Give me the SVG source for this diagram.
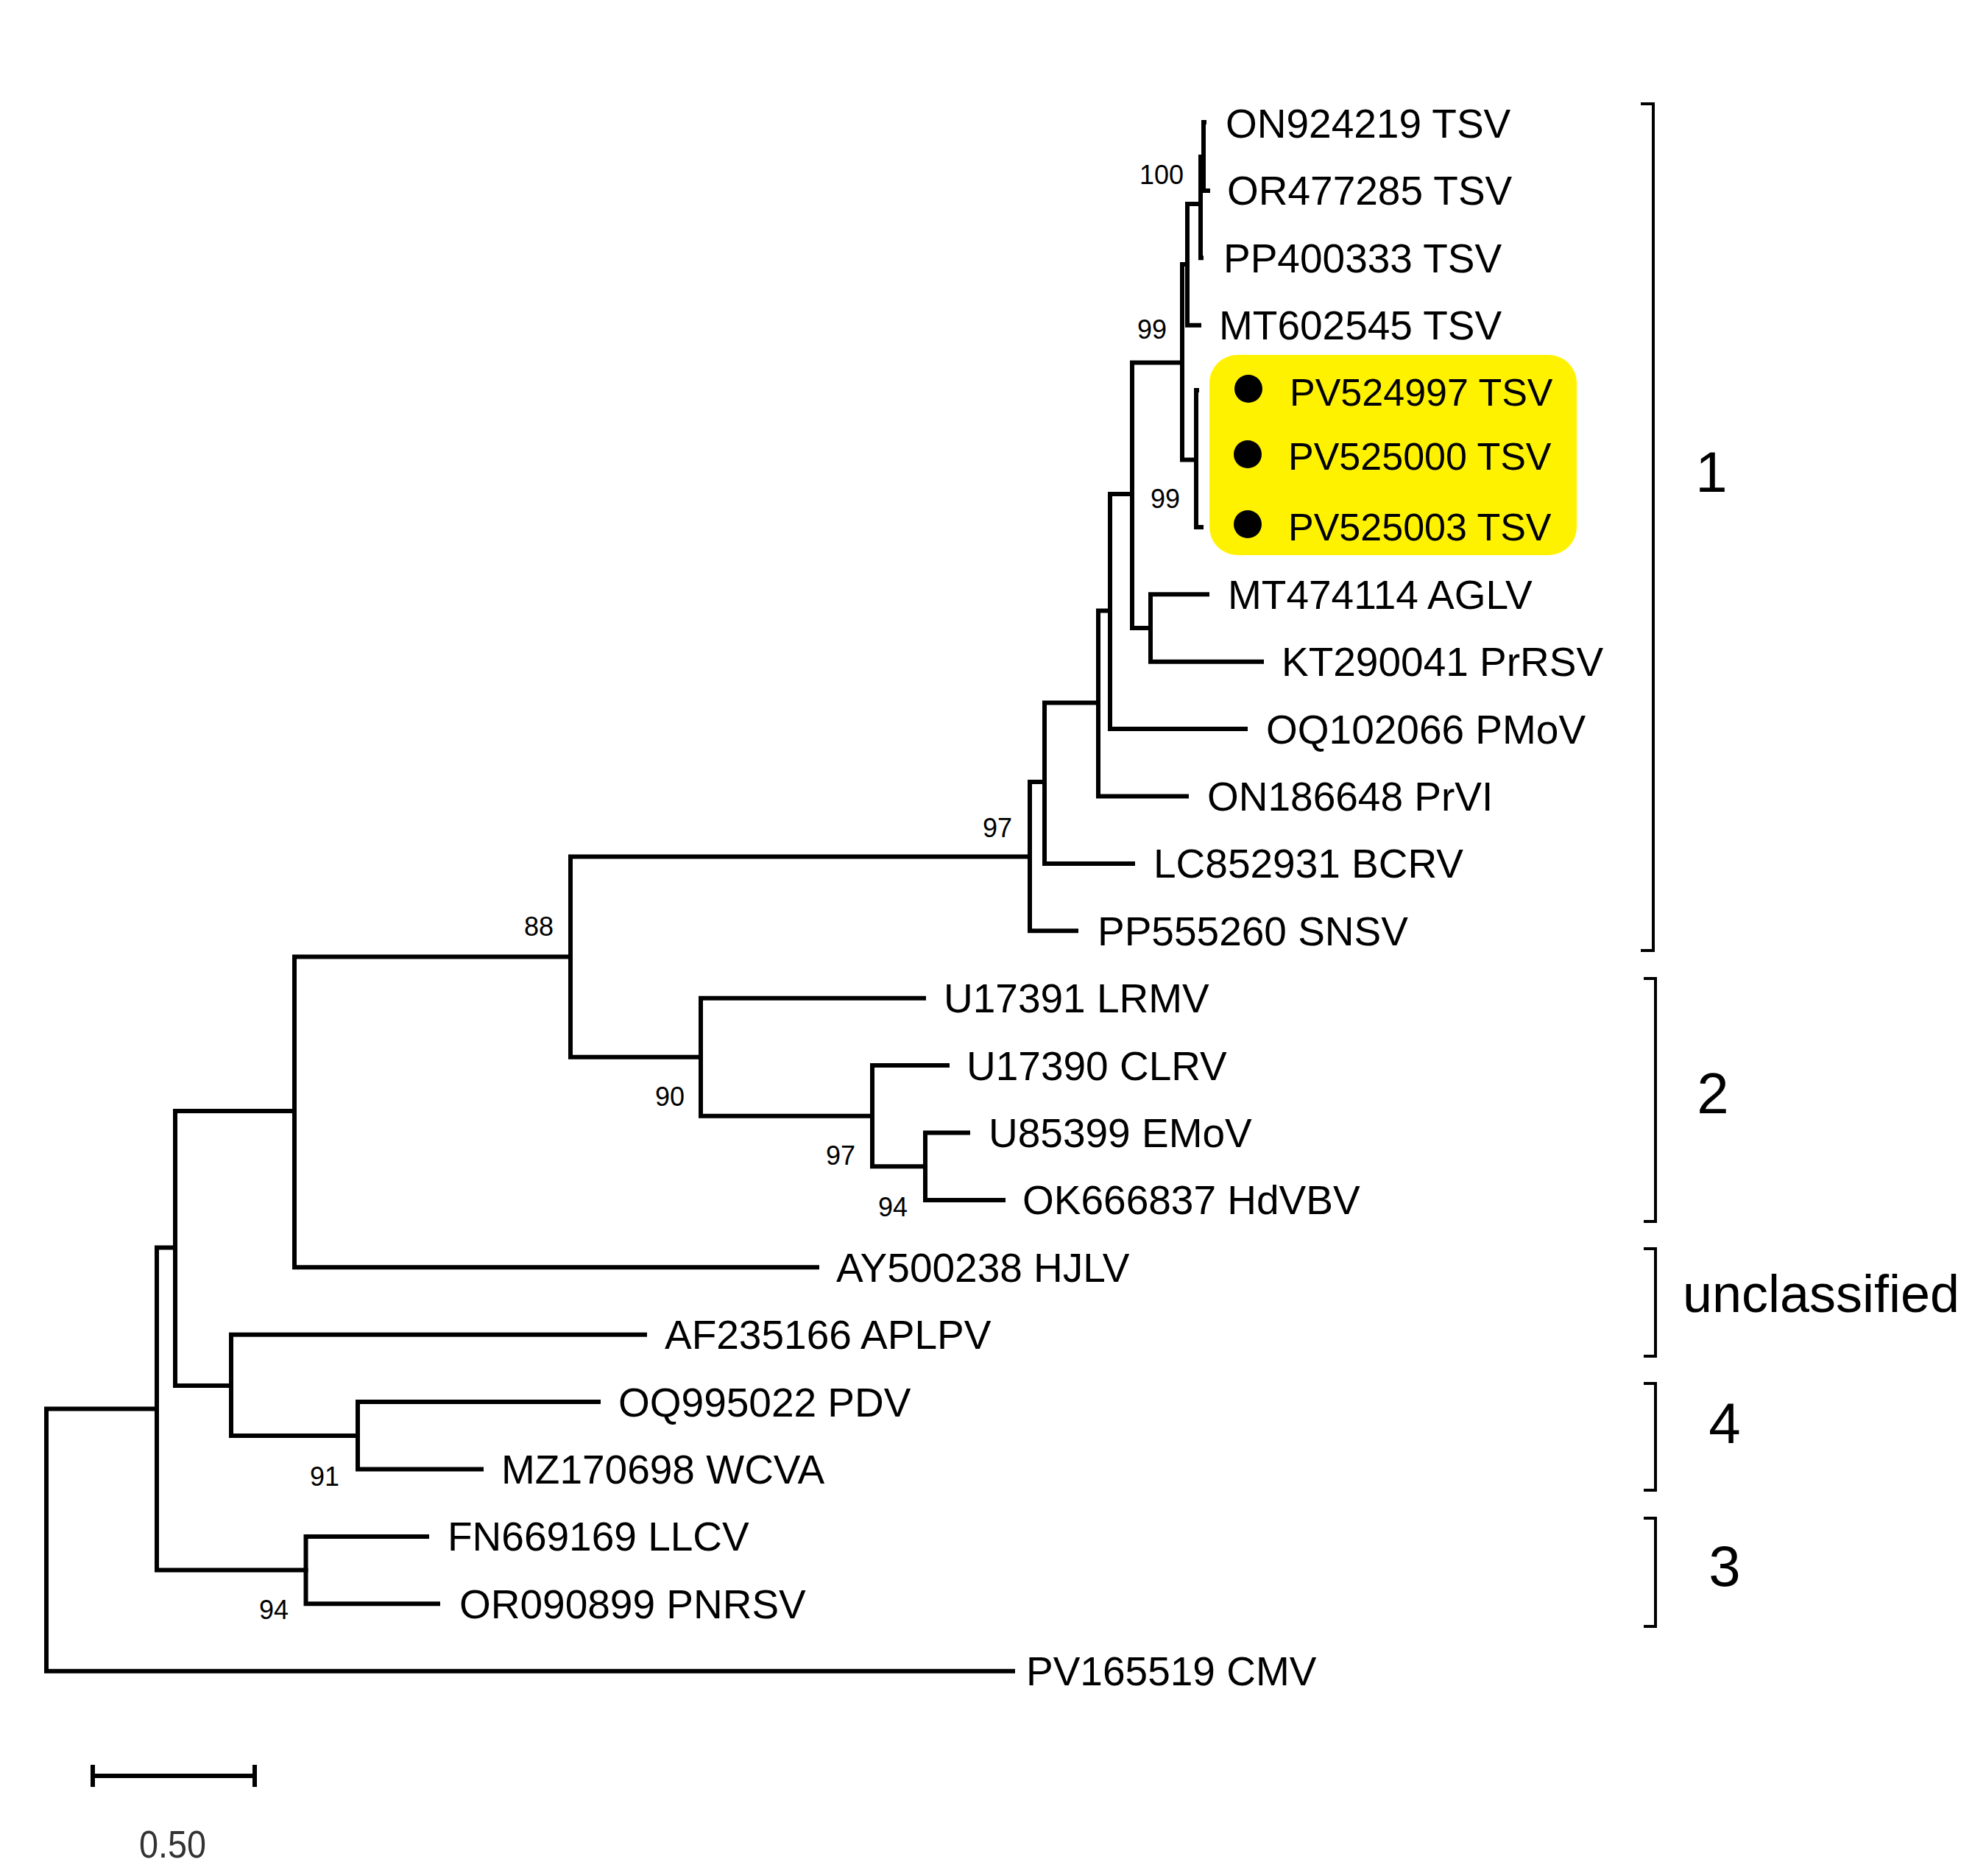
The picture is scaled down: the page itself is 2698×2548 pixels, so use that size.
<svg xmlns="http://www.w3.org/2000/svg" width="2698" height="2548" viewBox="0 0 2698 2548">
<style>
.br{fill:none;stroke:#000;stroke-width:6;stroke-linecap:square;stroke-linejoin:miter}
.bk{fill:none;stroke:#000;stroke-width:4;stroke-linecap:butt}
.lf{font-family:"Liberation Sans",Arial,sans-serif;font-size:55px;fill:#000}
.hl{font-family:"Liberation Sans",Arial,sans-serif;font-size:52px;fill:#000}
.bs{font-family:"Liberation Sans",Arial,sans-serif;font-size:36px;fill:#000}
.cl{font-family:"Liberation Sans",Arial,sans-serif;font-size:78px;fill:#000}
.sc{font-family:"Liberation Sans",Arial,sans-serif;font-size:52px;fill:#333}
</style>
<rect x="0" y="0" width="2698" height="2548" fill="#fff"/>

<g id="highlight">
<rect x="1643" y="482" width="499" height="272" rx="38" ry="38" fill="#FFF200"/>
</g>

<g id="connectors">
<path class="br" d="M213 1913.5 H63 V2269.7 H1376"/>
<path class="br" d="M238 1694.5 H213 V2132.6 H415.5"/>
<path class="br" d="M580 2086.9 H415.5 V2178.3 H595"/>
<path class="br" d="M400 1509 H238 V1882 H314"/>
<path class="br" d="M876 1812.7 H314 V1950 H486"/>
<path class="br" d="M813 1904.1 H486 V1995.5 H654"/>
<path class="br" d="M775 1299.6 H400 V1721.3 H1110"/>
<path class="br" d="M1399 1163.5 H775 V1435.7 H952"/>
<path class="br" d="M1255 1355.7 H952 V1515.7 H1185"/>
<path class="br" d="M1287 1447.1 H1185 V1584.2 H1257"/>
<path class="br" d="M1315 1538.5 H1257 V1629.9 H1363"/>
<path class="br" d="M1419 1062 H1399 V1264.3 H1462"/>
<path class="br" d="M1492 954.5 H1419 V1172.9 H1539"/>
<path class="br" d="M1508 829.5 H1492 V1081.5 H1612"/>
<path class="br" d="M1538 671 H1508 V990.1 H1692"/>
<path class="br" d="M1606 492.5 H1538 V853 H1563"/>
<path class="br" d="M1640 807.3 H1563 V898.7 H1714"/>
<path class="br" d="M1613 359 H1606 V624.5 H1625"/>
<path class="br" d="M1631 277 H1613 V441.7 H1629"/>
<path class="br" d="M1635 213 H1631 V350.3 H1632"/>
<path class="br" d="M1636 166 H1635 V258.9 H1641"/>
<path class="br" d="M1626 530 H1625 V715.9 H1632"/>
</g>

<g id="bootstrap">
<text class="bs" x="1548" y="250">100</text>
<text class="bs" x="1545" y="460">99</text>
<text class="bs" x="1563" y="690">99</text>
<text class="bs" x="1335" y="1137">97</text>
<text class="bs" x="712" y="1271">88</text>
<text class="bs" x="890" y="1502">90</text>
<text class="bs" x="1122" y="1582">97</text>
<text class="bs" x="1193" y="1652">94</text>
<text class="bs" x="421" y="2018">91</text>
<text class="bs" x="352" y="2199">94</text>
</g>

<g id="leaf-ON924219"><text class="lf" x="1665" y="187">ON924219 TSV</text></g>
<g id="leaf-OR477285"><text class="lf" x="1667" y="278">OR477285 TSV</text></g>
<g id="leaf-PP400333"><text class="lf" x="1662" y="370">PP400333 TSV</text></g>
<g id="leaf-MT602545"><text class="lf" x="1656" y="461">MT602545 TSV</text></g>
<g id="leaf-PV524997"><circle cx="1696" cy="528" r="19" fill="#000"/><text class="hl" x="1752" y="551">PV524997 TSV</text></g>
<g id="leaf-PV525000"><circle cx="1695" cy="617" r="19" fill="#000"/><text class="hl" x="1750" y="638">PV525000 TSV</text></g>
<g id="leaf-PV525003"><circle cx="1695" cy="712" r="19" fill="#000"/><text class="hl" x="1750" y="734">PV525003 TSV</text></g>
<g id="leaf-MT474114"><text class="lf" x="1668" y="827">MT474114 AGLV</text></g>
<g id="leaf-KT290041"><text class="lf" x="1741" y="918">KT290041 PrRSV</text></g>
<g id="leaf-OQ102066"><text class="lf" x="1720" y="1010">OQ102066 PMoV</text></g>
<g id="leaf-ON186648"><text class="lf" x="1640" y="1101">ON186648 PrVI</text></g>
<g id="leaf-LC852931"><text class="lf" x="1567" y="1192">LC852931 BCRV</text></g>
<g id="leaf-PP555260"><text class="lf" x="1491" y="1284">PP555260 SNSV</text></g>
<g id="leaf-U17391"><text class="lf" x="1282" y="1375">U17391 LRMV</text></g>
<g id="leaf-U17390"><text class="lf" x="1313" y="1467">U17390 CLRV</text></g>
<g id="leaf-U85399"><text class="lf" x="1343" y="1558">U85399 EMoV</text></g>
<g id="leaf-OK666837"><text class="lf" x="1389" y="1649">OK666837 HdVBV</text></g>
<g id="leaf-AY500238"><text class="lf" x="1136" y="1741">AY500238 HJLV</text></g>
<g id="leaf-AF235166"><text class="lf" x="903" y="1832">AF235166 APLPV</text></g>
<g id="leaf-OQ995022"><text class="lf" x="840" y="1924">OQ995022 PDV</text></g>
<g id="leaf-MZ170698"><text class="lf" x="681" y="2015">MZ170698 WCVA</text></g>
<g id="leaf-FN669169"><text class="lf" x="608" y="2106">FN669169 LLCV</text></g>
<g id="leaf-OR090899"><text class="lf" x="624" y="2198">OR090899 PNRSV</text></g>
<g id="leaf-PV165519"><text class="lf" x="1394" y="2289">PV165519 CMV</text></g>

<g id="clade-1"><path class="bk" d="M2229 141 H2246 V1291 H2229"/><text class="cl" x="2325" y="668" text-anchor="middle">1</text></g>
<g id="clade-2"><path class="bk" d="M2233 1329 H2249 V1659 H2233"/><text class="cl" x="2327" y="1512" text-anchor="middle">2</text></g>
<g id="clade-unclassified"><path class="bk" d="M2233 1696 H2249 V1842 H2233"/><text class="cl" x="2286" y="1782" font-size="72" textLength="376" lengthAdjust="spacingAndGlyphs" style="font-size:72px">unclassified</text></g>
<g id="clade-4"><path class="bk" d="M2233 1879 H2249 V2024 H2233"/><text class="cl" x="2343" y="1960" text-anchor="middle">4</text></g>
<g id="clade-3"><path class="bk" d="M2233 2062 H2249 V2209 H2233"/><text class="cl" x="2343" y="2154" text-anchor="middle">3</text></g>

<g id="scale-bar">
<path class="br" d="M126 2412 H346"/>
<path class="br" d="M126 2400 V2424 M346 2400 V2424"/>
<text class="sc" x="189" y="2523" textLength="91" lengthAdjust="spacingAndGlyphs">0.50</text>
</g>
</svg>
